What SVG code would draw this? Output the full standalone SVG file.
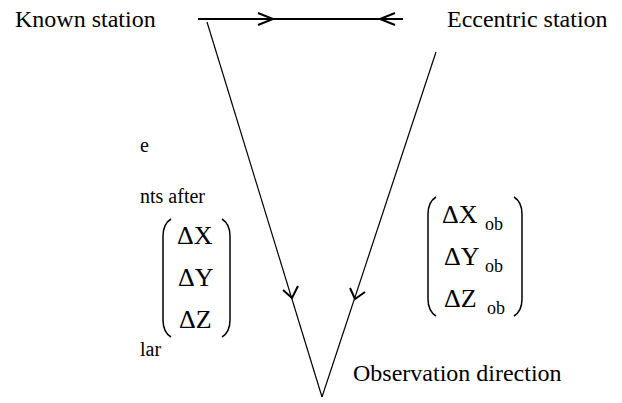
<svg xmlns="http://www.w3.org/2000/svg" width="622" height="403" viewBox="0 0 622 403">
<style>
text{font-family:'Liberation Serif','DejaVu Serif',serif;fill:#000}
.t{font-size:24px}
.f{font-size:20px}
.m{font-size:26px}
.s{font-size:18px}
.ln{stroke:#000;fill:none;stroke-width:1.2}
.bold{stroke:#000;fill:none;stroke-width:2}
.par{stroke:#000;fill:none;stroke-width:1.5}
</style>
<rect width="622" height="403" fill="#fff"/>
<g id="known-station"><text class="t" x="15" y="27">Known station</text></g>
<g id="eccentric-station"><text class="t" x="447" y="27">Eccentric station</text></g>
<g id="observation-direction"><text class="t" x="353" y="381">Observation direction</text></g>
<g id="fragments">
<text class="f" x="140" y="152">e</text>
<text class="f" x="140" y="203">nts after</text>
<text class="f" x="140" y="356">lar</text>
</g>
<g id="matrix-left">
<path class="par" d="M171 219 Q163 224 163 236 L163 320 Q163 332 171 337"/>
<path class="par" d="M222 219 Q230 224 230 236 L230 320 Q230 332 222 337"/>
<text class="m" x="177" y="244">ΔX</text>
<text class="m" x="178" y="286">ΔY</text>
<text class="m" x="179" y="328">ΔZ</text>
</g>
<g id="matrix-right">
<path class="par" d="M436 197 Q428 202 428 214 L428 299 Q428 311 436 316"/>
<path class="par" d="M514 197 Q522 202 522 214 L522 299 Q522 311 514 316"/>
<text class="m" x="442" y="223">ΔX</text><text class="s" x="485" y="230">ob</text>
<text class="m" x="444" y="265">ΔY</text><text class="s" x="485" y="272">ob</text>
<text class="m" x="444" y="307">ΔZ</text><text class="s" x="487" y="314">ob</text>
</g>
<g id="connectors">
<line class="bold" x1="198" y1="19" x2="403" y2="19"/>
<polyline class="bold" points="258,13 273,19 258,25"/>
<polyline class="bold" points="395,13 380,19 395,25"/>
<line class="ln" x1="207" y1="22" x2="322" y2="397"/>
<line class="ln" x1="436" y1="52" x2="322" y2="397"/>
<polyline class="bold" points="283,290 292,298 298,286"/>
<polyline class="bold" points="350,288 355,299 365,292"/>
</g>
</svg>
